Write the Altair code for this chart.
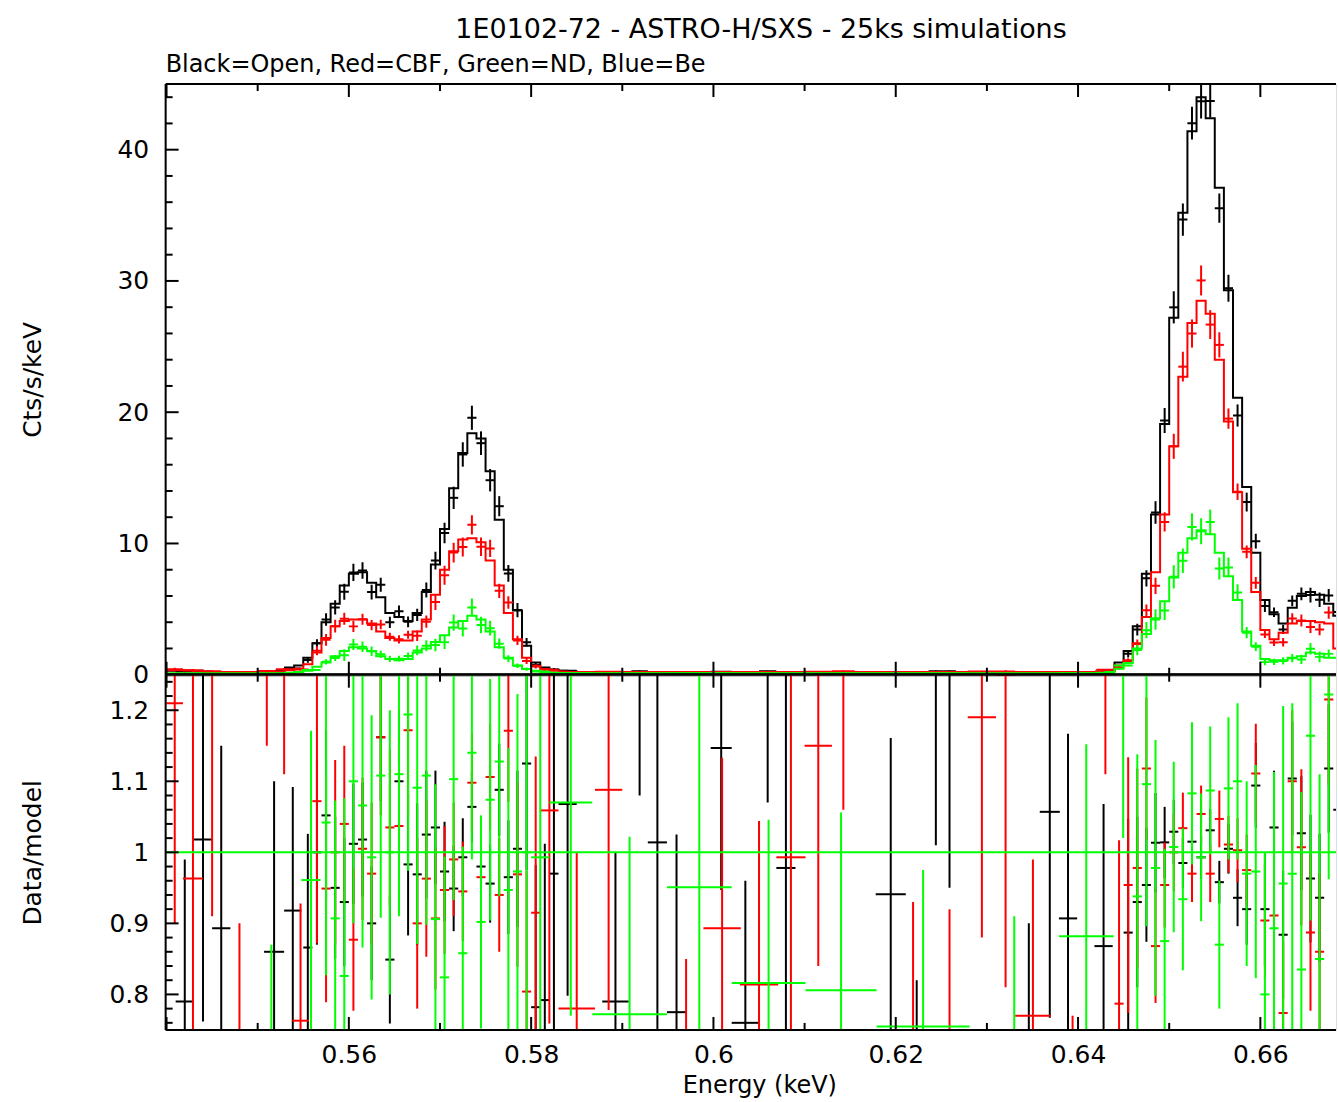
import math
import altair as alt
import pandas as pd

FONT = "DejaVu Sans"
TITLE = "1E0102-72 - ASTRO-H/SXS - 25ks simulations"
SUBTITLE = "Black=Open, Red=CBF, Green=ND, Blue=Be"
X_TITLE = "Energy (keV)"
Y_TITLE_TOP = "Cts/s/keV"
Y_TITLE_BOT = "Data/model"

X_DOMAIN = [0.5399, 0.6683]
Y_TOP_DOMAIN = [0, 45]
Y_BOT_DOMAIN = [0.75, 1.25]
X_LABELS = [0.56, 0.58, 0.6, 0.62, 0.64, 0.66]
X_MAJOR = [0.54, 0.56, 0.58, 0.6, 0.62, 0.64, 0.66]
X_MINOR = [0.55, 0.57, 0.59, 0.61, 0.63, 0.65]
Y_TOP_MAJOR = [0, 10, 20, 30, 40]
Y_TOP_MINOR = [2, 4, 6, 8, 12, 14, 16, 18, 22, 24, 26, 28, 32, 34, 36, 38, 42, 44]
Y_BOT_MAJOR = [0.8, 0.9, 1.0, 1.1, 1.2]
Y_BOT_MINOR = [0.76, 0.78, 0.82, 0.84, 0.86, 0.88, 0.92, 0.94, 0.96, 0.98,
               1.02, 1.04, 1.06, 1.08, 1.12, 1.14, 1.16, 1.18, 1.22, 1.24]

# model spectra, 1 eV bins starting at 540 eV (Cts/s/keV)
BIN_START_EV = 540
BLACK_MODEL = [
    0.3, 0.3, 0.3, 0.3, 0.2, 0.2, 0.2, 0.2, 0.2, 0.2,
    0.2, 0.25, 0.3, 0.55, 0.7, 1.3, 2.4, 4.0, 5.4, 6.8,
    7.7, 7.8, 7.0, 5.9, 4.7, 4.4, 4.1, 4.7, 6.3, 8.4,
    11.1, 14.2, 16.9, 18.4, 18.0, 15.5, 11.8, 8.0, 4.9, 2.2,
    0.94, 0.56, 0.4, 0.3, 0.25, 0.2, 0.2, 0.2, 0.2, 0.2,
    0.2, 0.2, 0.2, 0.2, 0.2, 0.2, 0.2, 0.2, 0.2, 0.2,
    0.2, 0.2, 0.2, 0.2, 0.2, 0.2, 0.2, 0.2, 0.2, 0.2,
    0.2, 0.2, 0.2, 0.2, 0.2, 0.2, 0.2, 0.2, 0.2, 0.2,
    0.2, 0.2, 0.2, 0.2, 0.2, 0.2, 0.2, 0.2, 0.2, 0.2,
    0.2, 0.2, 0.2, 0.2, 0.2, 0.2, 0.2, 0.2, 0.2, 0.2,
    0.2, 0.2, 0.25, 0.3, 0.94, 1.8, 3.7, 7.7, 12.2, 19.1,
    27.2, 35.2, 41.4, 44.0, 42.4, 37.1, 29.3, 21.1, 14.3, 9.3,
    5.7, 4.6, 3.9, 5.1, 6.0, 6.3, 6.1, 5.4, 4.5,
]
RED_MODEL = [
    0.35, 0.35, 0.35, 0.3, 0.2, 0.2, 0.2, 0.2, 0.2, 0.2,
    0.2, 0.2, 0.25, 0.35, 0.45, 0.8, 1.7, 2.8, 3.7, 4.1,
    4.2, 4.2, 3.9, 3.3, 2.8, 2.6, 2.6, 3.3, 4.2, 6.1,
    8.0, 9.4, 10.3, 10.4, 10.1, 8.7, 6.8, 4.7, 2.7, 1.3,
    0.68, 0.43, 0.3, 0.25, 0.2, 0.2, 0.2, 0.2, 0.2, 0.2,
    0.2, 0.2, 0.2, 0.2, 0.2, 0.2, 0.2, 0.2, 0.2, 0.2,
    0.2, 0.2, 0.2, 0.2, 0.2, 0.2, 0.2, 0.2, 0.2, 0.2,
    0.2, 0.2, 0.2, 0.2, 0.2, 0.2, 0.2, 0.2, 0.2, 0.2,
    0.2, 0.2, 0.2, 0.2, 0.2, 0.2, 0.2, 0.2, 0.2, 0.2,
    0.2, 0.2, 0.2, 0.2, 0.2, 0.2, 0.2, 0.2, 0.2, 0.2,
    0.2, 0.2, 0.25, 0.3, 0.7, 1.1, 2.4, 4.4, 7.8, 12.2,
    17.4, 22.7, 26.8, 28.5, 27.5, 24.0, 19.3, 13.9, 9.6, 6.3,
    3.4, 2.7, 3.2, 3.9, 4.1, 4.1, 4.0, 3.9, 2.0,
]
GREEN_MODEL = [
    0.12, 0.12, 0.12, 0.12, 0.12, 0.12, 0.12, 0.12, 0.12, 0.12,
    0.12, 0.12, 0.12, 0.15, 0.2, 0.3, 0.6, 0.94, 1.4, 1.8,
    2.1, 2.0, 1.8, 1.4, 1.2, 1.1, 1.2, 1.7, 2.0, 2.5,
    3.0, 3.6, 4.1, 4.5, 4.2, 3.3, 2.1, 1.3, 0.7, 0.43,
    0.3, 0.2, 0.15, 0.12, 0.12, 0.12, 0.12, 0.12, 0.12, 0.12,
    0.12, 0.12, 0.12, 0.12, 0.12, 0.12, 0.12, 0.12, 0.12, 0.12,
    0.12, 0.12, 0.12, 0.12, 0.12, 0.12, 0.12, 0.12, 0.12, 0.12,
    0.12, 0.12, 0.12, 0.12, 0.12, 0.12, 0.12, 0.12, 0.12, 0.12,
    0.12, 0.12, 0.12, 0.12, 0.12, 0.12, 0.12, 0.12, 0.12, 0.12,
    0.12, 0.12, 0.12, 0.12, 0.12, 0.12, 0.12, 0.12, 0.12, 0.12,
    0.12, 0.12, 0.15, 0.2, 0.45, 0.9, 2.0, 3.1, 4.3, 5.6,
    7.4, 9.3, 10.4, 11.0, 10.7, 9.3, 7.5, 5.7, 3.3, 2.2,
    1.2, 1.1, 1.1, 1.3, 1.4, 1.7, 1.6, 1.3, 1.3,
]

# data/model residuals: (low eV, high eV, ratio, ratio error)
BLACK_RES = [
    (541.0, 543.0, 0.79, 0.20), (543.0, 545.0, 1.018, 0.256), (545.0, 547.0, 0.893, 0.257),
    (550.7, 552.9, 0.86, 0.24), (552.9, 554.8, 0.918, 0.174), (555, 556, 0.866, 0.16),
    (556, 557, 1.0, 0.13), (557, 558, 1.052, 0.12), (558, 559, 0.95, 0.10),
    (559, 560, 0.93, 0.09), (560, 561, 1.012, 0.085), (561, 562, 1.018, 0.08),
    (562, 563, 0.90, 0.08), (563, 564, 1.162, 0.09), (564, 565, 0.849, 0.09),
    (565, 566, 1.10, 0.10), (566, 567, 0.983, 0.10), (567, 568, 0.969, 0.10),
    (568, 569, 1.025, 0.09), (569, 570, 1.035, 0.08), (570, 571, 0.973, 0.07),
    (571, 572, 0.949, 0.06), (572, 573, 0.993, 0.055), (573, 574, 1.064, 0.05),
    (574, 575, 0.98, 0.05), (575, 576, 0.956, 0.055), (576, 577, 1.088, 0.065),
    (577, 578, 0.965, 0.08), (578, 579, 1.005, 0.11), (579, 580, 1.125, 0.15),
    (580, 581, 0.782, 0.20), (581, 582, 0.792, 0.22), (582, 583, 0.97, 0.33),
    (583, 585, 1.068, 0.27), (587.8, 590.7, 0.79, 0.21), (591.0, 592.8, 1.35, 0.27),
    (592.8, 594.9, 1.014, 0.35), (594.9, 597.0, 0.775, 0.25), (599.7, 602.0, 1.147, 0.20),
    (602.0, 605.0, 0.76, 0.20), (605.0, 606.9, 1.30, 0.23), (606.9, 609.0, 0.978, 0.35),
    (617.8, 621.1, 0.941, 0.22), (621.6, 623.0, 0.60, 0.22), (623.6, 625.2, 1.30, 0.29),
    (625.2, 626.6, 1.28, 0.33), (633.8, 635.4, 0.60, 0.30), (635.8, 638.0, 1.057, 0.29),
    (637.9, 639.9, 0.907, 0.26), (641.8, 643.8, 0.868, 0.20),
    (645, 646, 0.887, 0.16), (646, 647, 0.93, 0.12), (647, 648, 0.954, 0.08),
    (648, 649, 1.0135, 0.07), (649, 650, 1.014, 0.05), (650, 651, 1.029, 0.045),
    (651, 652, 0.985, 0.035), (652, 653, 1.015, 0.03), (653, 654, 0.993, 0.03),
    (654, 655, 1.031, 0.03), (655, 656, 0.958, 0.03), (656, 657, 1.005, 0.035),
    (657, 658, 0.936, 0.04), (658, 659, 0.92, 0.05), (659, 660, 1.094, 0.06),
    (660, 661, 0.92, 0.08), (661, 662, 1.035, 0.08), (662, 663, 0.884, 0.09),
    (663, 664, 1.104, 0.08), (664, 665, 1.027, 0.08), (665, 666, 0.963, 0.09),
    (666, 667, 0.936, 0.09), (667, 668, 1.118, 0.09), (668, 669, 1.06, 0.10),
]
RED_RES = [
    (540.0, 541.8, 1.21, 0.31), (541.8, 544.0, 0.963, 0.33), (544.0, 546.0, 1.30, 0.39),
    (547.0, 549.0, 0.60, 0.30), (550.0, 552.0, 1.40, 0.25), (552.0, 553.8, 1.40, 0.29),
    (553.8, 555.6, 0.763, 0.165), (556, 557, 1.072, 0.20), (557, 558, 0.949, 0.16),
    (558, 559, 1.0, 0.13), (559, 560, 1.04, 0.11), (560, 561, 0.877, 0.10),
    (561, 562, 1.005, 0.10), (562, 563, 0.97, 0.10), (563, 564, 1.162, 0.11),
    (564, 565, 1.035, 0.11), (565, 566, 1.037, 0.12), (566, 567, 1.172, 0.12),
    (567, 568, 0.90, 0.12), (568, 569, 0.963, 0.11), (569, 570, 0.907, 0.10),
    (570, 571, 0.947, 0.09), (571, 572, 0.99, 0.08), (572, 573, 0.945, 0.07),
    (573, 574, 1.098, 0.07), (574, 575, 0.965, 0.07), (575, 576, 1.106, 0.075),
    (576, 577, 0.94, 0.08), (577, 578, 1.171, 0.10), (578, 579, 0.969, 0.13),
    (579, 580, 0.804, 0.17), (580, 581, 0.915, 0.22), (581, 583, 1.059, 0.30),
    (583, 587, 0.78, 0.22), (587, 590, 1.088, 0.31), (596.5, 597.5, 0.60, 0.25),
    (598.9, 603.0, 0.893, 0.24), (602.9, 607.1, 0.814, 0.23), (606.9, 610.1, 0.993, 0.35),
    (610.0, 613.0, 1.15, 0.31), (613.0, 615.5, 1.37, 0.31), (621.4, 622.4, 0.60, 0.33),
    (625.4, 626.4, 0.60, 0.32), (627.9, 631.0, 1.19, 0.31), (631.0, 633.1, 1.25, 0.44),
    (633.1, 637.0, 0.77, 0.22), (638.9, 639.9, 0.60, 0.17), (642, 644, 1.35, 0.24),
    (644, 645, 0.787, 0.23), (645, 646, 0.954, 0.18), (646, 647, 0.978, 0.14),
    (647, 648, 1.118, 0.10), (648, 649, 0.868, 0.08), (649, 650, 0.954, 0.06),
    (650, 651, 1.0, 0.055), (651, 652, 1.034, 0.05), (652, 653, 0.97, 0.04),
    (653, 654, 1.054, 0.04), (654, 655, 0.97, 0.04), (655, 656, 1.047, 0.04),
    (656, 657, 1.011, 0.04), (657, 658, 1.003, 0.045), (658, 659, 0.975, 0.05),
    (659, 660, 1.111, 0.07), (660, 661, 0.904, 0.08), (661, 662, 0.911, 0.10),
    (662, 663, 0.774, 0.10), (663, 664, 1.10, 0.10), (664, 665, 1.007, 0.11),
    (665, 666, 0.887, 0.11), (666, 667, 0.86, 0.11), (667, 668, 1.215, 0.12),
]
GREEN_RES = [
    (549.5, 553.5, 0.60, 0.27), (554.8, 556.9, 0.961, 0.21), (557, 558, 1.042, 0.215),
    (558, 559, 0.907, 0.166), (559, 560, 0.826, 0.25), (560, 561, 1.10, 0.20),
    (561, 562, 1.066, 0.20), (562, 563, 0.993, 0.20), (563, 564, 1.108, 0.20),
    (564, 565, 1.0, 0.20), (565, 566, 1.11, 0.20), (566, 567, 1.194, 0.22),
    (567, 568, 1.091, 0.22), (568, 569, 1.108, 0.21), (569, 570, 0.906, 0.19),
    (570, 571, 0.824, 0.17), (571, 572, 1.103, 0.17), (572, 573, 0.858, 0.15),
    (573, 574, 1.14, 0.15), (574, 575, 0.902, 0.15), (575, 576, 1.074, 0.17),
    (576, 577, 1.128, 0.19), (577, 578, 0.947, 0.20), (578, 579, 0.973, 0.25),
    (579, 580, 1.0, 0.30), (580, 582, 0.993, 0.30), (582, 586.7, 1.07, 0.30),
    (586.7, 594.9, 0.772, 0.25), (594.9, 602.0, 0.951, 0.40), (602.0, 610.1, 0.816, 0.23),
    (610.1, 617.9, 0.806, 0.25), (617.9, 628.1, 0.755, 0.22), (628.1, 637.9, 0.65, 0.26),
    (637.9, 643.9, 0.882, 0.27), (643.9, 646.0, 1.35, 0.33), (646, 647, 0.938, 0.20),
    (647, 648, 1.096, 0.20), (648, 649, 0.978, 0.18), (649, 650, 0.875, 0.13),
    (650, 651, 1.0075, 0.12), (651, 652, 0.934, 0.10), (652, 653, 1.083, 0.10),
    (653, 654, 0.993, 0.09), (654, 655, 1.087, 0.09), (655, 656, 0.87, 0.09),
    (656, 657, 1.09, 0.10), (657, 658, 1.10, 0.11), (658, 659, 0.97, 0.13),
    (659, 660, 0.973, 0.15), (660, 661, 0.80, 0.20), (661, 662, 0.893, 0.22),
    (662, 663, 0.956, 0.25), (663, 664, 0.97, 0.24), (664, 665, 0.835, 0.25),
    (665, 666, 1.164, 0.26), (666, 667, 0.85, 0.26), (667, 668, 1.222, 0.26),
]

SERIES = [
    ("Open", "#000000", BLACK_MODEL, BLACK_RES),
    ("CBF", "#ff0000", RED_MODEL, RED_RES),
    ("ND", "#00ff00", GREEN_MODEL, GREEN_RES),
]

W = 1173
H_TOP = 592
H_BOT = 356
LW = 2

xs = alt.Scale(domain=X_DOMAIN, nice=False, zero=False)
ys_top = alt.Scale(domain=Y_TOP_DOMAIN, nice=False, zero=False)
ys_bot = alt.Scale(domain=Y_BOT_DOMAIN, nice=False, zero=False)

x_axis_bot = alt.Axis(values=X_LABELS, format="~g", ticks=False, domain=False, grid=False,
                      labelFontSize=25, labelFont=FONT, labelColor="black", labelPadding=13,
                      labelFlush=False, labelOverlap=False,
                      title=X_TITLE, titleFontSize=24, titleFont=FONT, titleFontWeight="normal",
                      titleColor="black", titlePadding=6, titleX=595)
y_axis_top = alt.Axis(values=Y_TOP_MAJOR, ticks=False, domain=False, grid=False,
                      labelFontSize=25, labelFont=FONT, labelColor="black", labelPadding=17,
                      labelFlush=False, labelOverlap=False,
                      title=Y_TITLE_TOP, titleFontSize=25, titleFont=FONT, titleFontWeight="normal",
                      titleColor="black", titlePadding=22, minExtent=98, maxExtent=98)
y_axis_bot = alt.Axis(values=Y_BOT_MAJOR, format="~g", ticks=False, domain=False, grid=False,
                      labelFontSize=25, labelFont=FONT, labelColor="black", labelPadding=17,
                      labelFlush=False, labelOverlap=False,
                      title=Y_TITLE_BOT, titleFontSize=25, titleFont=FONT, titleFontWeight="normal",
                      titleColor="black", titlePadding=22, minExtent=98, maxExtent=98)


def step_frame(model):
    rows = []
    for i, v in enumerate(model):
        lo = (BIN_START_EV + i) / 1000.0
        hi = (BIN_START_EV + i + 1) / 1000.0
        rows.append({"E": lo, "v": v, "k": 2 * i})
        rows.append({"E": hi, "v": v, "k": 2 * i + 1})
    return pd.DataFrame(rows)


def cross_frame(res, model):
    rows = []
    for lo, hi, r, e in res:
        i0 = max(int(math.floor(lo)) - BIN_START_EV, 0)
        i1 = min(int(math.ceil(hi)) - BIN_START_EV, len(model))
        seg = model[i0:i1]
        m = sum(seg) / len(seg)
        rows.append({"lo": lo / 1000.0, "hi": hi / 1000.0, "c": (lo + hi) / 2000.0,
                     "r": r, "rlo": r - e, "rhi": r + e,
                     "y": m * r, "ylo": m * (r - e), "yhi": m * (r + e)})
    return pd.DataFrame(rows)


def x_enc(field, axis):
    return alt.X(field, type="quantitative", scale=xs, axis=axis)


top_layers = []
bot_layers = []
for name, color, model, res in SERIES:
    sf = step_frame(model)
    cf = cross_frame(res, model)
    top_layers.append(
        alt.Chart(sf).mark_line(color=color, strokeWidth=LW, clip=True).encode(
            x=x_enc("E", None),
            y=alt.Y("v:Q", scale=ys_top, axis=y_axis_top),
            order="k:Q"))
    top_layers.append(
        alt.Chart(cf).mark_rule(color=color, strokeWidth=LW, clip=True).encode(
            x=x_enc("lo", None), x2="hi:Q",
            y=alt.Y("y:Q", scale=ys_top, axis=y_axis_top)))
    top_layers.append(
        alt.Chart(cf).mark_rule(color=color, strokeWidth=LW, clip=True).encode(
            x=x_enc("c", None),
            y=alt.Y("ylo:Q", scale=ys_top, axis=y_axis_top), y2="yhi:Q"))
    bot_layers.append(
        alt.Chart(cf).mark_rule(color=color, strokeWidth=LW, clip=True).encode(
            x=x_enc("lo", x_axis_bot), x2="hi:Q",
            y=alt.Y("r:Q", scale=ys_bot, axis=y_axis_bot)))
    bot_layers.append(
        alt.Chart(cf).mark_rule(color=color, strokeWidth=LW, clip=True).encode(
            x=x_enc("c", x_axis_bot),
            y=alt.Y("rlo:Q", scale=ys_bot, axis=y_axis_bot), y2="rhi:Q"))

# zero line of the spectrum panel and unity line of the ratio panel
top_layers.append(
    alt.Chart(pd.DataFrame({"zero": [0.0]})).mark_rule(color="black", strokeWidth=3).encode(
        y=alt.Y("zero:Q", scale=ys_top, axis=y_axis_top)))
bot_layers.append(
    alt.Chart(pd.DataFrame({"one": [1.0]})).mark_rule(color="#00ff00", strokeWidth=LW).encode(
        y=alt.Y("one:Q", scale=ys_bot, axis=y_axis_bot)))


def frame(height):
    # left, top and bottom frame lines (the right edge falls outside the picture)
    dummy = pd.DataFrame({"f": [0]})
    base = alt.Chart(dummy).mark_rule(color="black", strokeWidth=2)
    return [
        base.encode(x=alt.value(0), y=alt.value(0), y2=alt.value(height)),
        base.encode(y=alt.value(0), x=alt.value(0), x2=alt.value(W)),
        base.encode(y=alt.value(height), x=alt.value(0), x2=alt.value(W)),
    ]


def xticks(values, length, height, x_axis):
    df = pd.DataFrame({"t": values})
    top = alt.Chart(df).mark_rule(color="black", strokeWidth=2).encode(
        x=x_enc("t", x_axis), y=alt.value(0), y2=alt.value(length))
    bot = alt.Chart(df).mark_rule(color="black", strokeWidth=2).encode(
        x=x_enc("t", x_axis), y=alt.value(height - length), y2=alt.value(height))
    return [top, bot]


def yticks(values, length, y_scale, y_axis):
    df = pd.DataFrame({"t": values})
    return [alt.Chart(df).mark_rule(color="black", strokeWidth=2).encode(
        y=alt.Y("t:Q", scale=y_scale, axis=y_axis), x=alt.value(0), x2=alt.value(length))]


top_layers += xticks(X_MAJOR, 13, H_TOP, None)
top_layers += xticks(X_MINOR, 7, H_TOP, None)
top_layers += yticks(Y_TOP_MAJOR, 13, ys_top, y_axis_top)
top_layers += yticks(Y_TOP_MINOR, 7, ys_top, y_axis_top)
top_layers += frame(H_TOP)
bot_layers += xticks(X_MAJOR, 13, H_BOT, x_axis_bot)
bot_layers += xticks(X_MINOR, 7, H_BOT, x_axis_bot)
bot_layers += yticks(Y_BOT_MAJOR, 13, ys_bot, y_axis_bot)
bot_layers += yticks(Y_BOT_MINOR, 7, ys_bot, y_axis_bot)
bot_layers += frame(H_BOT)

top = alt.layer(*top_layers).properties(
    width=W, height=H_TOP,
    title=alt.TitleParams(SUBTITLE, anchor="start", frame="group", fontSize=24, font=FONT,
                          fontWeight="normal", color="black", offset=6))
bottom = alt.layer(*bot_layers).properties(width=W, height=H_BOT)

chart = alt.vconcat(top, bottom, spacing=0, bounds="flush").properties(
    title=alt.TitleParams(TITLE, anchor="middle", fontSize=27, font=FONT, fontWeight="normal",
                          color="black", offset=9, dx=82),
    padding={"left": 20, "top": 14, "right": 0, "bottom": 5},
).configure_view(strokeWidth=0, stroke=None).configure(background="white")

chart.save("out.html", embed_options={"renderer": "svg", "actions": False})
